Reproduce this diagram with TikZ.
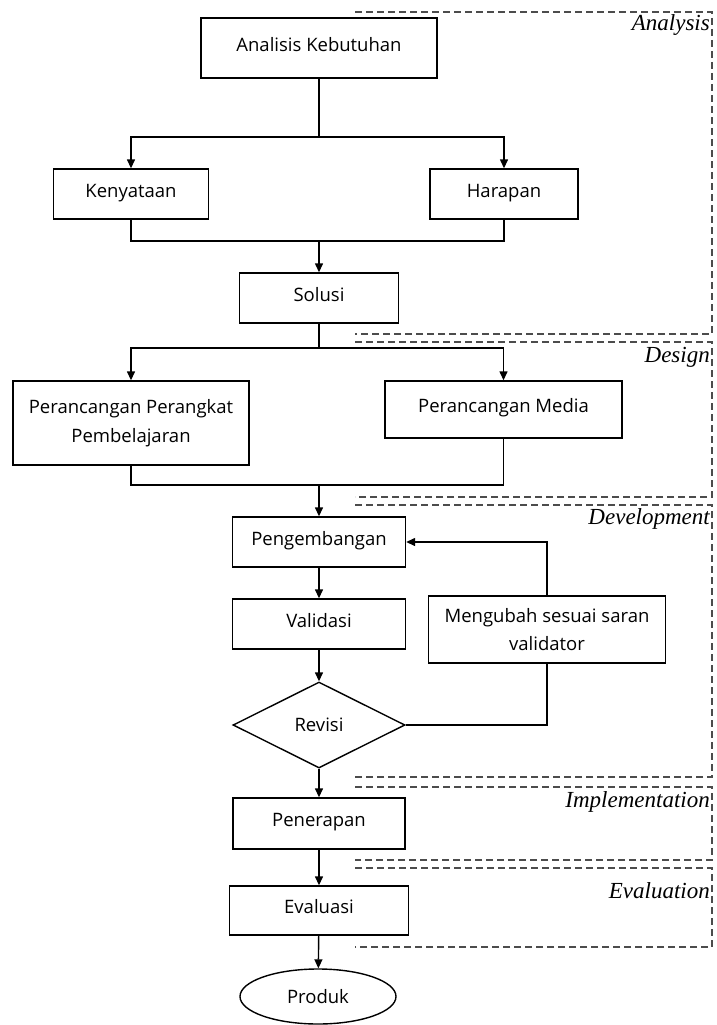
\documentclass[tikz,border=0pt]{standalone}
\usepackage{fontspec}
\setmainfont{Open Sans}
\newfontfamily\phasefont{Liberation Serif}
\usepackage{tikz}
\usetikzlibrary{shapes.geometric,arrows.meta}
\tikzset{
  stepbox/.style={draw=black, line width=1.4pt, rectangle, inner sep=0pt, align=center,
    font=\fontsize{18.5}{28.5}\selectfont},
  onebox/.style={stepbox, text height=13.5pt, text depth=7pt},
  revbox/.style={draw=black, line width=1.4pt, diamond, inner sep=0pt,
    minimum width=172pt, minimum height=86pt, font=\fontsize{18.5}{28.5}\selectfont},
  endbox/.style={draw=black, line width=1.4pt, ellipse, inner sep=0pt,
    minimum width=156pt, minimum height=55pt, font=\fontsize{18.5}{28.5}\selectfont},
  flow/.style={line width=1.4pt, draw=black},
  flowarr/.style={flow, -{Triangle[length=9pt,width=8pt]}},
  phaseframe/.style={line width=1.2pt, draw=black!70, dash pattern=on 7pt off 4pt},
  phaselabel/.style={anchor=base east, inner sep=0pt,
    font=\phasefont\itshape\fontsize{23}{26}\selectfont},
}
\begin{document}
\begin{tikzpicture}[x=1pt,y=-1pt]
\useasboundingbox (0,0) rectangle (717,1025);
% phase frames
\draw[phaseframe] (355,12) -- (712,12) -- (712,334) -- (355,334);
\draw[phaseframe] (355,342) -- (712,342) -- (712,497) -- (355,497);
\draw[phaseframe] (355,505) -- (712,505) -- (712,777) -- (355,777);
\draw[phaseframe] (355,787) -- (712,787) -- (712,860) -- (355,860);
\draw[phaseframe] (355,868) -- (712,868) -- (712,947) -- (355,947);
\node[phaselabel] (analysis) at (710,31) {Analysis};
\node[phaselabel] (design) at (710,362) {Design};
\node[phaselabel] (development) at (710,524) {Development};
\node[phaselabel] (implementation) at (710,807) {Implementation};
\node[phaselabel] (evaluation) at (710,898) {Evaluation};
% steps
\node[onebox, minimum width=236pt, minimum height=60pt] (kebutuhan) at (319,48) {Analisis Kebutuhan};
\node[onebox, minimum width=155pt, minimum height=50pt] (kenyataan) at (131,194) {Kenyataan};
\node[onebox, minimum width=148pt, minimum height=50pt] (harapan) at (504,194) {Harapan};
\node[onebox, minimum width=159pt, minimum height=50pt] (solusi) at (319,298) {Solusi};
\node[stepbox, minimum width=236pt, minimum height=84pt] (perangkat) at (131,423) {Perancangan Perangkat\\Pembelajaran};
\node[onebox, minimum width=237pt, minimum height=57pt] (media) at (503.5,409.5) {Perancangan Media};
\node[onebox, minimum width=173pt, minimum height=50pt] (pengembangan) at (319,542) {Pengembangan};
\node[onebox, minimum width=173pt, minimum height=50pt] (validasi) at (319,624) {Validasi};
\node[stepbox, minimum width=237pt, minimum height=67pt] (mengubah) at (547,629.5) {Mengubah sesuai saran\\validator};
\node[revbox] (revisi) at (319,725) {Revisi};
\node[onebox, minimum width=172pt, minimum height=51pt] (penerapan) at (319,823.5) {Penerapan};
\node[onebox, minimum width=179pt, minimum height=49pt] (evaluasi) at (319,910.5) {Evaluasi};
\node[endbox] (produk) at (318,996.5) {Produk};
% joints
\coordinate (fork1) at (319,137);
\coordinate (join1) at (319,241);
\coordinate (fork2) at (319,348);
\coordinate (join2) at (319,485);
% connectors
\draw[flow] (kebutuhan) -- (fork1);
\draw[flowarr] (fork1) -| (kenyataan);
\draw[flowarr] (fork1) -| (harapan);
\draw[flow] (kenyataan.south) |- (join1) -| (harapan.south);
\draw[flowarr] (join1) -- (solusi);
\draw[flow] (solusi) -- (fork2);
\draw[flowarr] (fork2) -| (perangkat);
\draw[flowarr] (fork2) -| (media);
\draw[flow] (perangkat.south) |- (join2) -| (media.south);
\draw[flowarr] (join2) -- (pengembangan);
\draw[flowarr] (pengembangan) -- (validasi);
\draw[flowarr] (validasi) -- (revisi);
\draw[flow] (revisi.east) -| (mengubah.south);
\draw[flowarr] (mengubah.north) |- (pengembangan.east);
\draw[flowarr] (revisi) -- (penerapan);
\draw[flowarr] (penerapan) -- (evaluasi);
\draw[flowarr] (evaluasi) -- (produk);
\end{tikzpicture}
\end{document}
